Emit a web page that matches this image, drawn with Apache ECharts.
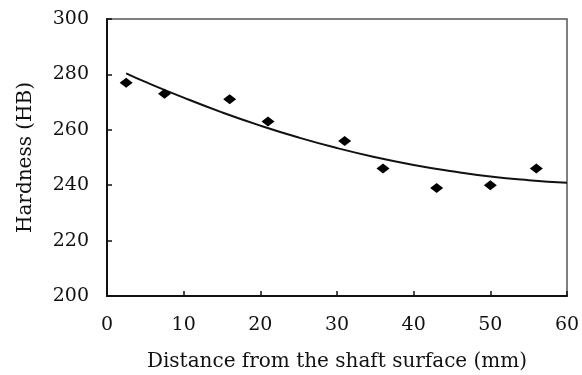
<!DOCTYPE html>
<html>
<head>
<meta charset="utf-8">
<script src="https://cdn.jsdelivr.net/npm/echarts@6/dist/echarts.min.js"></script>
<style>
  html, body { margin: 0; padding: 0; background: #fff; }
  #chart { width: 582px; height: 375px; }
</style>
</head>
<body>
<div id="chart"></div>
<script>
// measured hardness points (distance mm, hardness HB)
const distance = [2.5, 7.5, 16, 21, 31, 36, 43, 50, 56];
const hardness = [277, 273, 271, 263, 256, 246, 239, 240, 246];

// trend curve
const trendX = [2.5, 5, 10, 15, 20, 25, 30, 35, 40, 45, 50, 55, 60];
const trendY = [280.4, 277.3, 271.6, 266.3, 261.5, 257.2, 253.4, 250.1, 247.3, 245.0, 243.1, 241.8, 240.9];

const xTicks = [0, 10, 20, 30, 40, 50, 60];
const yTicks = [200, 220, 240, 260, 280, 300];

const serif = 'DejaVu Serif';

const myChart = echarts.init(document.getElementById('chart'));

const option = {
  animation: false,
  grid: {
    left: 107, right: 15, top: 19, bottom: 79,
    outerBoundsMode: 'none',
    show: true, borderColor: '#555', borderWidth: 1.5
  },
  xAxis: {
    type: 'value',
    min: xTicks[0], max: xTicks[xTicks.length - 1], interval: 10,
    name: 'Distance from the shaft surface (mm)',
    nameLocation: 'middle', nameGap: 56,
    nameTextStyle: { fontFamily: serif, fontSize: 20, color: '#111' },
    axisLine: { lineStyle: { color: '#111', width: 2 } },
    axisTick: { inside: true, length: 5, lineStyle: { color: '#111', width: 1.5 } },
    axisLabel: { fontFamily: serif, fontSize: 19, color: '#111', margin: 20 },
    splitLine: { show: false }
  },
  yAxis: {
    type: 'value',
    min: yTicks[0], max: yTicks[yTicks.length - 1], interval: 20,
    name: 'Hardness (HB)',
    nameLocation: 'middle', nameGap: 71, nameRotate: 90,
    nameTextStyle: { fontFamily: serif, fontSize: 20, color: '#111' },
    axisLine: { lineStyle: { color: '#111', width: 2 } },
    axisTick: { inside: true, length: 5, lineStyle: { color: '#111', width: 1.5 } },
    axisLabel: { fontFamily: serif, fontSize: 19, color: '#111', margin: 18 },
    splitLine: { show: false }
  },
  series: [
    {
      type: 'line',
      data: trendX.map((x, i) => [x, trendY[i]]),
      smooth: true,
      showSymbol: false,
      lineStyle: { color: '#111', width: 2 },
      z: 2
    },
    {
      type: 'scatter',
      data: distance.map((x, i) => [x, hardness[i]]),
      symbol: 'diamond',
      symbolSize: [13, 10],
      itemStyle: { color: '#000', opacity: 1 },
      z: 3
    }
  ]
};

option && myChart.setOption(option);
</script>
</body>
</html>
